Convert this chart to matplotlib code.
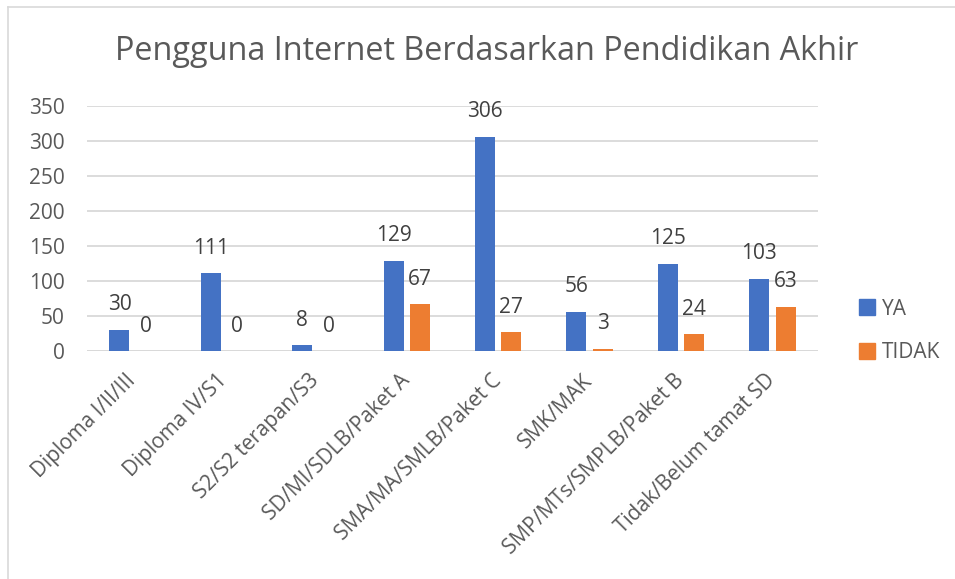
import numpy as np
import matplotlib.pyplot as plt
from matplotlib.lines import Line2D

# data
kategori = ["Diploma I/II/III", "Diploma IV/S1", "S2/S2 terapan/S3",
            "SD/MI/SDLB/Paket A", "SMA/MA/SMLB/Paket C", "SMK/MAK",
            "SMP/MTs/SMPLB/Paket B", "Tidak/Belum tamat SD"]
ya = [30, 111, 8, 129, 306, 56, 125, 103]
tidak = [0, 0, 0, 67, 27, 3, 24, 63]

biru = "#4472C4"
oranye = "#ED7D31"
abu = "#595959"

plt.rcParams['font.family'] = ['Open Sans', 'DejaVu Sans']

fig = plt.figure(figsize=(9.55, 5.79), dpi=100)
ax = fig.add_axes([87 / 955, 1 - 351 / 579, 731 / 955, 245 / 579])

x = np.arange(len(kategori))
lebar = 0.22
geser = 0.145
b1 = ax.bar(x - geser, ya, lebar, color=biru, label="YA", zorder=3)
b2 = ax.bar(x + geser, tidak, lebar, color=oranye, label="TIDAK", zorder=3)

# label nilai di atas batang
for bars in (b1, b2):
    for b in bars:
        ax.annotate(str(int(b.get_height())),
                    (b.get_x() + b.get_width() / 2, b.get_height()),
                    xytext=(0, 25), textcoords='offset pixels',
                    ha='center', va='center', fontsize=15, color="#404040")

ax.set_xlim(-0.5, len(kategori) - 0.5)
ax.set_ylim(0, 350)
ax.set_yticks(range(0, 351, 50))
ax.yaxis.grid(True, color="#D9D9D9", linewidth=1.3, zorder=0)
ax.set_axisbelow(True)
for s in ax.spines.values():
    s.set_visible(False)
ax.axhline(0, color="#D9D9D9", linewidth=1.3, zorder=1)

ax.tick_params(axis='y', length=0, colors=abu, labelsize=15, pad=16)
ax.set_xticks(x)
ax.set_xticklabels(kategori, rotation=45, ha='right', va='center',
                   rotation_mode='anchor')
ax.tick_params(axis='x', length=0, colors=abu, labelsize=15, pad=19)

fig.text(0.51, 1 - 52 / 579, "Pengguna Internet Berdasarkan Pendidikan Akhir",
         ha='center', va='center', fontsize=23.3, color=abu)

handles = [Line2D([], [], marker='s', linestyle='none', markersize=11,
                  color=biru),
           Line2D([], [], marker='s', linestyle='none', markersize=11,
                  color=oranye)]
fig.legend(handles, ["YA", "TIDAK"], loc='center left',
           bbox_to_anchor=(838 / 955, 1 - 331 / 579), frameon=False,
           fontsize=15, labelcolor=abu, handletextpad=0.2, labelspacing=1.1,
           handlelength=1.0)

# bingkai tipis seperti chart area Excel
fig.add_artist(Line2D([8 / 955, 8 / 955], [0, 1 - 7 / 579],
                      transform=fig.transFigure, color="#D9D9D9", lw=1.2))
fig.add_artist(Line2D([8 / 955, 1], [1 - 7 / 579, 1 - 7 / 579],
                      transform=fig.transFigure, color="#D9D9D9", lw=1.2))

fig.savefig("out.png", dpi=100)
